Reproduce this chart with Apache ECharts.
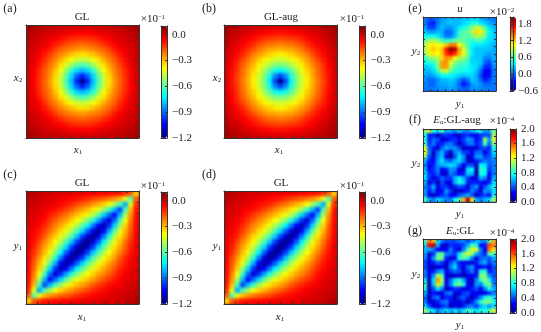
<!DOCTYPE html>
<html>

<head>
	<meta charset="utf-8">
	<title>GL fields</title>
	<script src="https://cdn.jsdelivr.net/npm/echarts@6/dist/echarts.min.js"></script>
	<style>
		html, body { margin: 0; padding: 0; background: #fff; }
		#heatWide, #heatSmall, #top { position: absolute; left: 0; top: 0; width: 541px; height: 332px; }
		#heatWide { filter: blur(1.6px); }
		#heatSmall { filter: blur(0.8px); }
	</style>
</head>

<body>
	<div id="heatWide"></div>
	<div id="heatSmall"></div>
	<div id="top"></div>
	<script>
		// (a) one quadrant, row 0 / col 0 is the centre of the plot
		var quadA = [
			[-1.20, -1.00, -0.80, -0.62, -0.46, -0.35, -0.26, -0.19, -0.12, -0.06, -0.01],
			[-1.00, -0.91, -0.76, -0.59, -0.45, -0.34, -0.25, -0.18, -0.12, -0.06, -0.01],
			[-0.80, -0.76, -0.66, -0.52, -0.40, -0.31, -0.23, -0.17, -0.11, -0.05, -0.01],
			[-0.62, -0.59, -0.52, -0.43, -0.35, -0.27, -0.21, -0.15, -0.09, -0.04, 0.00],
			[-0.46, -0.45, -0.40, -0.35, -0.29, -0.23, -0.18, -0.12, -0.07, -0.03, 0.00],
			[-0.35, -0.34, -0.31, -0.27, -0.23, -0.19, -0.14, -0.09, -0.05, -0.02, 0.01],
			[-0.26, -0.25, -0.23, -0.21, -0.18, -0.14, -0.09, -0.06, -0.03, -0.01, 0.01],
			[-0.19, -0.18, -0.17, -0.15, -0.12, -0.09, -0.06, -0.03, -0.02, 0.00, 0.02],
			[-0.12, -0.12, -0.11, -0.09, -0.07, -0.05, -0.03, -0.02, -0.01, 0.01, 0.03],
			[-0.06, -0.06, -0.05, -0.04, -0.03, -0.02, -0.01, 0.00, 0.01, 0.02, 0.04],
			[-0.01, -0.01, -0.01, 0.00, 0.00, 0.01, 0.01, 0.02, 0.03, 0.04, 0.06]
		];
		// (b) same layout as quadA
		var quadB = [
			[-1.20, -0.95, -0.72, -0.56, -0.45, -0.37, -0.29, -0.22, -0.15, -0.08, -0.02],
			[-0.95, -0.85, -0.68, -0.54, -0.44, -0.36, -0.28, -0.21, -0.14, -0.08, -0.02],
			[-0.72, -0.68, -0.60, -0.50, -0.41, -0.33, -0.27, -0.20, -0.13, -0.07, -0.02],
			[-0.56, -0.54, -0.50, -0.43, -0.37, -0.30, -0.24, -0.18, -0.12, -0.06, -0.01],
			[-0.45, -0.44, -0.41, -0.37, -0.32, -0.26, -0.21, -0.15, -0.10, -0.05, -0.01],
			[-0.37, -0.36, -0.33, -0.30, -0.26, -0.22, -0.16, -0.11, -0.07, -0.03, 0.00],
			[-0.29, -0.28, -0.27, -0.24, -0.21, -0.16, -0.12, -0.08, -0.05, -0.02, 0.01],
			[-0.22, -0.21, -0.20, -0.18, -0.15, -0.11, -0.08, -0.05, -0.03, -0.01, 0.02],
			[-0.15, -0.14, -0.13, -0.12, -0.10, -0.07, -0.05, -0.03, -0.01, 0.01, 0.03],
			[-0.08, -0.08, -0.07, -0.06, -0.05, -0.03, -0.02, -0.01, 0.01, 0.02, 0.04],
			[-0.02, -0.02, -0.02, -0.01, -0.01, 0.00, 0.01, 0.02, 0.03, 0.04, 0.06]
		];
		// (c), (d) the field is symmetric about both diagonals, only one wedge is kept.
		// row j counts up from the bottom, col i from the left
		var wedgeC = [
			[-0.35],
			[-0.18, -0.60],
			[-0.12, -0.42, -0.82],
			[-0.09, -0.30, -0.62, -0.95],
			[-0.08, -0.25, -0.50, -0.80, -1.03],
			[-0.07, -0.22, -0.40, -0.64, -0.90, -1.09],
			[-0.07, -0.19, -0.33, -0.52, -0.76, -0.98, -1.13],
			[-0.06, -0.17, -0.29, -0.42, -0.60, -0.82, -1.04, -1.16],
			[-0.05, -0.15, -0.25, -0.36, -0.48, -0.67, -0.88, -1.07, -1.18],
			[-0.05, -0.12, -0.21, -0.31, -0.41, -0.55, -0.72, -0.92, -1.09, -1.19],
			[-0.04, -0.10, -0.18, -0.27, -0.35, -0.46, -0.60, -0.76, -0.96, -1.11, -1.20],
			[-0.04, -0.08, -0.15, -0.23, -0.31, -0.39, -0.49, -0.62, -0.78, -0.96],
			[-0.03, -0.07, -0.11, -0.18, -0.26, -0.33, -0.41, -0.50, -0.62],
			[-0.03, -0.05, -0.09, -0.14, -0.21, -0.27, -0.34, -0.41],
			[-0.02, -0.04, -0.07, -0.11, -0.17, -0.23, -0.28],
			[-0.01, -0.03, -0.05, -0.08, -0.13, -0.18],
			[-0.01, -0.02, -0.03, -0.06, -0.10],
			[0.00, -0.01, -0.02, -0.05],
			[0.01, 0.00, -0.01],
			[0.02, 0.01],
			[0.05]
		];
		// (e) rows from the top
		var fieldE = [
			[0.05, -0.05, -0.05, 0.05, 0.12, 0.20, 0.20, 0.20, 0.22, 0.25, 0.25, 0.30, 0.30, 0.22, 0.12, 0.10, 0.05],
			[0.05, -0.15, -0.20, 0.05, 0.18, 0.22, 0.25, 0.22, 0.22, 0.30, 0.35, 0.45, 0.50, 0.35, 0.28, 0.18, 0.12],
			[0.15, -0.10, -0.10, 0.10, 0.22, 0.12, 0.12, 0.22, 0.35, 0.45, 0.55, 0.75, 0.90, 0.85, 0.60, 0.32, 0.22],
			[0.25, 0.15, 0.15, 0.22, 0.18, 0.00, 0.00, 0.20, 0.50, 0.65, 0.65, 0.85, 1.15, 1.10, 0.75, 0.40, 0.28],
			[0.45, 0.45, 0.45, 0.35, 0.22, 0.05, 0.05, 0.25, 0.55, 0.65, 0.60, 0.70, 0.85, 0.85, 0.65, 0.35, 0.28],
			[0.65, 0.80, 0.85, 0.75, 0.60, 0.50, 0.55, 0.65, 0.70, 0.65, 0.55, 0.50, 0.55, 0.55, 0.45, 0.32, 0.28],
			[0.85, 1.05, 1.10, 1.05, 1.00, 1.20, 1.40, 1.40, 1.05, 0.80, 0.60, 0.40, 0.35, 0.35, 0.30, 0.28, 0.22],
			[0.85, 1.10, 1.20, 1.10, 1.20, 1.65, 2.00, 1.90, 1.30, 0.95, 0.65, 0.35, 0.25, 0.25, 0.25, 0.25, 0.20],
			[0.75, 1.00, 1.10, 1.05, 1.20, 1.60, 1.75, 1.60, 1.25, 1.00, 0.70, 0.35, 0.25, 0.25, 0.20, 0.15, 0.20],
			[0.55, 0.70, 0.80, 0.85, 1.15, 1.35, 1.30, 1.05, 0.85, 0.80, 0.60, 0.30, 0.25, 0.25, 0.10, 0.05, 0.20],
			[0.40, 0.50, 0.55, 0.75, 1.30, 1.35, 1.00, 0.75, 0.65, 0.60, 0.50, 0.30, 0.30, 0.25, 0.00, -0.10, 0.15],
			[0.25, 0.30, 0.40, 0.70, 1.30, 1.30, 0.85, 0.60, 0.50, 0.50, 0.45, 0.35, 0.30, 0.15, -0.15, -0.20, 0.10],
			[0.22, 0.22, 0.30, 0.55, 0.85, 0.90, 0.65, 0.50, 0.45, 0.45, 0.40, 0.35, 0.25, 0.00, -0.30, -0.30, 0.05],
			[0.18, 0.12, 0.20, 0.30, 0.40, 0.45, 0.40, 0.35, 0.30, 0.25, 0.30, 0.30, 0.20, -0.10, -0.35, -0.25, 0.05],
			[0.12, 0.00, 0.00, 0.12, 0.22, 0.22, 0.28, 0.22, 0.08, -0.08, 0.05, 0.25, 0.20, 0.00, -0.20, -0.10, 0.05],
			[0.10, 0.00, 0.00, 0.12, 0.18, 0.18, 0.22, 0.18, 0.00, -0.22, -0.10, 0.15, 0.20, 0.10, 0.00, 0.00, 0.05],
			[0.05, 0.05, 0.05, 0.10, 0.12, 0.12, 0.18, 0.12, 0.05, -0.05, 0.00, 0.10, 0.12, 0.10, 0.05, 0.05, 0.05]
		];
		// (f) rows from the top
		var fieldF = [
			[1.00, 1.20, 0.80, 0.70, 0.90, 0.60, 0.60, 0.50, 0.70, 0.50, 0.50, 0.60, 0.70, 0.80, 0.50, 0.60, 1.00],
			[0.80, 0.30, 0.30, 0.10, 0.30, 0.35, 0.30, 0.20, 0.10, 0.30, 0.35, 0.25, 0.20, 0.35, 0.40, 0.40, 1.10],
			[0.80, 0.30, 0.45, 0.40, 0.15, 0.20, 0.30, 0.35, 0.25, 0.35, 0.55, 0.50, 0.25, 0.35, 1.05, 0.55, 1.20],
			[0.90, 0.35, 0.50, 0.30, 0.30, 0.45, 0.50, 0.35, 0.10, 0.30, 0.45, 0.50, 0.30, 0.40, 0.90, 0.45, 1.00],
			[1.20, 0.45, 0.30, 0.15, 0.45, 0.60, 0.50, 0.55, 0.40, 0.10, 0.20, 0.15, 0.20, 0.35, 0.40, 0.30, 0.80],
			[1.25, 0.50, 0.15, 0.45, 0.60, 0.35, 0.10, 0.50, 0.60, 0.35, 0.35, 0.20, 0.45, 0.45, 0.20, 0.35, 0.70],
			[1.00, 0.40, 0.15, 0.50, 0.65, 0.20, 0.05, 0.40, 0.70, 0.55, 0.10, 0.25, 0.55, 0.55, 0.35, 0.40, 0.60],
			[0.60, 0.30, 0.25, 0.55, 0.70, 0.50, 0.45, 0.60, 0.70, 0.50, 0.15, 0.15, 0.30, 0.40, 0.50, 0.45, 0.50],
			[0.50, 0.20, 0.30, 0.55, 0.60, 0.65, 0.70, 0.65, 0.45, 0.20, 0.40, 0.40, 0.10, 0.75, 0.70, 0.40, 0.50],
			[0.60, 0.25, 0.35, 0.50, 0.20, 0.30, 0.55, 0.50, 0.20, 0.15, 0.70, 0.75, 0.10, 0.85, 0.80, 0.35, 0.50],
			[0.70, 0.35, 0.30, 0.45, 0.20, 0.15, 0.50, 0.40, 0.25, 0.30, 0.65, 0.60, 0.10, 0.80, 0.75, 0.25, 0.50],
			[0.70, 0.35, 0.15, 0.30, 0.45, 0.35, 0.35, 0.60, 0.75, 0.60, 0.35, 0.15, 0.20, 0.60, 0.50, 0.15, 0.60],
			[0.60, 0.15, 0.35, 0.10, 0.40, 0.20, 0.20, 0.60, 0.85, 0.70, 0.30, 0.30, 0.30, 0.30, 0.20, 0.30, 0.70],
			[0.50, 0.35, 0.60, 0.20, 0.35, 0.35, 0.15, 0.30, 0.40, 0.35, 0.15, 0.45, 0.55, 0.20, 0.40, 0.60, 0.80],
			[0.55, 0.30, 0.45, 0.15, 0.25, 0.55, 0.35, 0.10, 0.15, 0.20, 0.30, 0.50, 0.35, 0.15, 0.55, 0.50, 0.70],
			[0.60, 0.20, 0.10, 0.25, 0.35, 0.45, 0.25, 0.25, 0.40, 0.50, 0.60, 0.40, 0.15, 0.30, 0.40, 0.25, 0.80],
			[0.90, 0.60, 0.50, 0.70, 0.60, 0.50, 0.50, 0.80, 0.90, 1.40, 1.85, 1.30, 0.60, 0.50, 0.60, 0.70, 1.10]
		];
		// (g) rows from the top
		var fieldG = [
			[0.90, 1.50, 1.40, 0.70, 0.50, 0.40, 0.40, 0.40, 0.50, 0.50, 0.40, 0.50, 0.60, 0.60, 0.50, 0.90, 1.40],
			[0.70, 1.75, 1.85, 0.60, 0.20, 0.15, 0.35, 0.30, 0.30, 0.40, 0.60, 0.90, 0.80, 0.25, 0.30, 1.60, 1.50],
			[0.60, 0.60, 0.50, 0.25, 0.20, 0.25, 0.50, 0.30, 0.15, 0.50, 0.90, 1.20, 1.15, 0.50, 0.20, 1.50, 1.30],
			[0.60, 0.15, 0.35, 0.90, 0.95, 0.50, 0.45, 0.35, 0.70, 1.00, 1.15, 1.00, 0.60, 0.45, 0.30, 0.90, 0.90],
			[0.50, 0.20, 0.55, 1.00, 0.95, 0.30, 0.15, 0.25, 0.80, 0.95, 0.80, 0.50, 0.20, 0.45, 0.50, 0.40, 0.60],
			[0.40, 0.20, 0.30, 0.45, 0.35, 0.15, 0.40, 0.55, 0.30, 0.25, 0.20, 0.15, 0.30, 0.50, 0.60, 0.35, 0.50],
			[0.40, 0.15, 0.10, 0.15, 0.25, 0.10, 0.50, 0.70, 0.35, 0.20, 0.45, 0.55, 0.25, 0.20, 0.30, 0.20, 0.40],
			[0.50, 0.20, 0.30, 0.50, 0.60, 0.20, 0.35, 0.45, 0.40, 0.15, 0.35, 0.50, 0.20, 0.80, 0.85, 0.30, 0.40],
			[0.50, 0.15, 0.55, 1.10, 0.95, 0.25, 0.10, 0.15, 0.20, 0.10, 0.20, 0.20, 0.30, 1.00, 1.00, 0.55, 0.40],
			[0.70, 0.10, 0.70, 1.45, 1.10, 0.20, 0.45, 0.70, 0.85, 0.60, 0.20, 0.10, 0.50, 0.85, 1.05, 0.80, 0.45],
			[0.90, 0.10, 0.65, 1.30, 0.95, 0.20, 0.50, 0.85, 1.00, 0.80, 0.25, 0.15, 0.55, 0.50, 0.85, 1.00, 0.50],
			[0.80, 0.10, 0.40, 0.70, 0.50, 0.10, 0.25, 0.35, 0.30, 0.20, 0.20, 0.30, 0.40, 0.25, 0.50, 0.80, 0.60],
			[0.60, 0.15, 0.30, 0.20, 0.20, 0.45, 0.50, 0.20, 0.15, 0.35, 0.40, 0.25, 0.20, 0.20, 0.20, 0.35, 0.50],
			[0.45, 0.10, 0.40, 0.50, 0.20, 0.30, 0.30, 0.10, 0.35, 0.45, 0.30, 0.10, 0.30, 0.50, 0.75, 0.90, 0.70],
			[0.50, 0.20, 0.15, 0.30, 0.45, 0.50, 0.20, 0.20, 0.15, 0.30, 0.10, 0.30, 0.55, 0.85, 1.00, 1.00, 0.80],
			[0.70, 0.40, 0.20, 0.15, 0.30, 0.40, 0.10, 0.25, 0.10, 0.30, 0.45, 0.50, 0.35, 0.60, 0.70, 0.55, 0.70],
			[1.10, 0.80, 0.70, 0.50, 0.60, 0.70, 0.60, 0.70, 0.60, 0.70, 0.90, 0.80, 0.70, 0.80, 0.80, 0.90, 1.20]
		];

		// colour bar tick labels
		var ticksGreen = [-1.2, -0.9, -0.6, -0.3, 0.0];
		var ticksU = [-0.6, 0.0, 0.6, 1.2, 1.8];
		var ticksErr = [0.0, 0.4, 0.8, 1.2, 1.6, 2.0];

		var jet = ['#00007f', '#0000ff', '#007fff', '#00ffff', '#7fff7f', '#ffff00', '#ff7f00', '#ff0000', '#7f0000'];
		var font = '"Liberation Serif"';

		function mirrorQuad(q) {
			var n = q.length - 1, rows = [];
			for (var r = -n; r <= n; r++) {
				var row = [];
				for (var c = -n; c <= n; c++) row.push(q[Math.abs(r)][Math.abs(c)]);
				rows.push(row);
			}
			return rows;
		}

		function expandWedge(w) {
			var n = w.length - 1, rows = [];
			for (var j = n; j >= 0; j--) {
				var row = [];
				for (var i = 0; i <= n; i++) {
					var a = Math.min(i, j), b = Math.max(i, j);
					if (a + b > n) { var t = n - b; b = n - a; a = t; }
					row.push(w[b][a]);
				}
				rows.push(row);
			}
			return rows;
		}

		var panels = [
			{ rows: mirrorQuad(quadA), x: 26, y: 25, w: 113, h: 113, bx: 161, bw: 6, by: 26, bh: 112, min: -1.2, max: 0.1, ticks: ticksGreen, step: 0.3, edge: '#c00000' },
			{ rows: mirrorQuad(quadB), x: 224, y: 25, w: 113, h: 113, bx: 359.5, bw: 6, by: 26, bh: 112, min: -1.2, max: 0.1, ticks: ticksGreen, step: 0.3, edge: '#c00000' },
			{ rows: expandWedge(wedgeC), x: 26, y: 191, w: 113, h: 113, bx: 161, bw: 6, by: 192, bh: 112, min: -1.2, max: 0.1, ticks: ticksGreen, step: 0.3, edge: '#c00000' },
			{ rows: expandWedge(wedgeC), x: 224, y: 191, w: 113, h: 113, bx: 359.5, bw: 6, by: 192, bh: 112, min: -1.2, max: 0.1, ticks: ticksGreen, step: 0.3, edge: '#c00000' },
			{ rows: fieldE, x: 423, y: 17, w: 73, h: 74, bx: 510, bw: 6, by: 17, bh: 74, min: -0.6, max: 2.05, ticks: ticksU, step: 0.6, edge: '#1050ff' },
			{ rows: fieldF, x: 423, y: 129, w: 73, h: 73, bx: 510, bw: 6, by: 129, bh: 73, min: 0, max: 2, ticks: ticksErr, step: 0.4, edge: '#1050ff' },
			{ rows: fieldG, x: 423, y: 239, w: 73, h: 74, bx: 510, bw: 6, by: 239, bh: 74, min: 0, max: 2, ticks: ticksErr, step: 0.4, edge: '#1050ff' }
		];

		var captions = [
			['GL', 82, 17], ['GL-aug', 281, 17], ['GL', 82, 183], ['GL', 281, 183],
			['{i|u}', 460, 9], ['{i|E}{si|u}:GL-aug', 457, 120], ['{i|E}{si|u}:GL', 460, 231],
			['×10{u|−1}', 153, 19], ['×10{u|−1}', 352, 19], ['×10{u|−1}', 153, 186], ['×10{u|−1}', 352, 186],
			['×10{u|−2}', 502, 12], ['×10{u|−4}', 502, 121], ['×10{u|−4}', 502, 233],
			['{i|x}{s|1}', 78, 150], ['{i|x}{s|1}', 279, 150], ['{i|x}{s|1}', 82, 317], ['{i|x}{s|1}', 280, 317],
			['{i|x}{s|2}', 18, 78], ['{i|x}{s|2}', 217, 78], ['{i|y}{s|1}', 18, 246], ['{i|y}{s|1}', 217, 246],
			['{i|y}{s|2}', 416, 51], ['{i|y}{s|2}', 416, 163], ['{i|y}{s|2}', 416, 274],
			['{i|y}{s|1}', 460, 104], ['{i|y}{s|1}', 460, 214], ['{i|y}{s|1}', 460, 325]
		];
		var panelLetters = [
			['(a)', 10, 9], ['(b)', 209, 9], ['(c)', 10, 175], ['(d)', 209, 175],
			['(e)', 415, 9], ['(f)', 415, 120], ['(g)', 415, 231]
		];

		function range(n) {
			var a = [];
			for (var i = 0; i < n; i++) a.push(i);
			return a;
		}

		function tickAxis(gridIndex, position) {
			return {
				type: 'value', gridIndex: gridIndex, position: position, min: 0, max: 10, interval: 1, z: 6,
				axisLine: { show: true, onZero: false, lineStyle: { color: '#333', width: 1 } },
				axisTick: { show: true, inside: true, length: 2, lineStyle: { color: '#333', width: 1 } },
				axisLabel: { show: false }, splitLine: { show: false }
			};
		}

		// the fields, in their own charts so only they get the css blur
		function drawFields(id, list) {
			var option = { animation: false, grid: [], xAxis: [], yAxis: [], visualMap: [], series: [] };
			var clip = '';
			list.forEach(function (p, k) {
				var n = p.rows.length, data = [];
				p.rows.forEach(function (row, r) {
					row.forEach(function (v, c) { data.push([c, r, v]); });
				});
				option.grid.push({
					left: p.x, top: p.y, width: p.w, height: p.h, show: true,
					backgroundColor: p.edge, borderColor: p.edge, borderWidth: 8
				});
				option.xAxis.push({ type: 'category', gridIndex: k, show: false, data: range(p.rows[0].length) });
				option.yAxis.push({ type: 'category', gridIndex: k, show: false, inverse: true, data: range(n) });
				option.visualMap.push({
					show: false, type: 'continuous', seriesIndex: k, min: p.min, max: p.max, inRange: { color: jet }
				});
				option.series.push({ type: 'heatmap', xAxisIndex: k, yAxisIndex: k, data: data, progressive: 0 });
				clip += 'M' + p.x + ' ' + p.y + 'h' + p.w + 'v' + p.h + 'h-' + p.w + 'z';
			});
			var dom = document.getElementById(id);
			dom.style.clipPath = "path('" + clip + "')";
			echarts.init(dom).setOption(option);
		}
		drawFields('heatWide', panels.slice(0, 4));
		drawFields('heatSmall', panels.slice(4));

		// frames, ticks, colour bars and text on top
		var topOption = { animation: false, grid: [], xAxis: [], yAxis: [], visualMap: [], graphic: [] };
		panels.forEach(function (p, k) {
			var g = k * 2, b = k * 2 + 1;
			topOption.grid.push({ left: p.x, top: p.y, width: p.w, height: p.h });
			topOption.grid.push({ left: p.bx, top: p.by, width: p.bw, height: p.bh });
			topOption.xAxis.push(tickAxis(g, 'bottom'), tickAxis(g, 'top'));
			topOption.yAxis.push(tickAxis(g, 'left'), tickAxis(g, 'right'));
			topOption.xAxis.push({
				type: 'value', gridIndex: b, position: 'bottom', min: 0, max: 1, z: 6, axisTick: { show: false },
				axisLabel: { show: false }, splitLine: { show: false },
				axisLine: { show: true, onZero: false, lineStyle: { color: '#333', width: 1 } }
			}, {
				type: 'value', gridIndex: b, position: 'top', min: 0, max: 1, z: 6, axisTick: { show: false },
				axisLabel: { show: false }, splitLine: { show: false },
				axisLine: { show: true, onZero: false, lineStyle: { color: '#333', width: 1 } }
			});
			topOption.yAxis.push({
				type: 'value', gridIndex: b, position: 'right', min: p.min, max: p.max, interval: p.step, z: 6,
				axisLine: { show: true, onZero: false, lineStyle: { color: '#333', width: 1 } },
				axisTick: { show: true, inside: true, length: 2, lineStyle: { color: '#333', width: 1 } },
				splitLine: { show: false },
				axisLabel: {
					show: true, margin: 5, color: '#222', fontFamily: font, fontSize: 11, hideOverlap: false,
					formatter: function (v) {
						var hit = p.ticks.some(function (t) { return Math.abs(t - v) < 1e-6; });
						if (!hit) return '';
						return (Math.abs(v) < 1e-6 ? 0 : v).toFixed(1).replace('-', '−');
					}
				}
			}, {
				type: 'value', gridIndex: b, position: 'left', min: p.min, max: p.max, z: 6, axisTick: { show: false },
				axisLabel: { show: false }, splitLine: { show: false },
				axisLine: { show: true, onZero: false, lineStyle: { color: '#333', width: 1 } }
			});
			topOption.visualMap.push({
				type: 'continuous', seriesIndex: [], min: p.min, max: p.max, left: p.bx, top: p.by, padding: 0,
				itemWidth: p.bw, itemHeight: p.bh, calculable: false, realtime: false, hoverLink: false,
				text: null, showLabel: false, inRange: { color: jet }, z: 2
			});
		});
		function addText(c, size) {
			topOption.graphic.push({
				type: 'text', x: c[1], y: c[2], z: 10,
				style: {
					text: c[0], align: 'center', verticalAlign: 'middle', fill: '#222', fontFamily: font, fontSize: size,
					rich: {
						i: { fontStyle: 'italic', fontFamily: font, fontSize: size, fill: '#222' },
						s: { fontFamily: font, fontSize: 7, verticalAlign: 'bottom', fill: '#222' },
						si: { fontStyle: 'italic', fontFamily: font, fontSize: 7, verticalAlign: 'bottom', fill: '#222' },
						u: { fontFamily: font, fontSize: 7, verticalAlign: 'top', fill: '#222' }
					}
				}
			});
		}
		captions.forEach(function (c) { addText(c, 11); });
		panelLetters.forEach(function (c) { addText(c, 12); });
		echarts.init(document.getElementById('top')).setOption(topOption);
	</script>
</body>

</html>
